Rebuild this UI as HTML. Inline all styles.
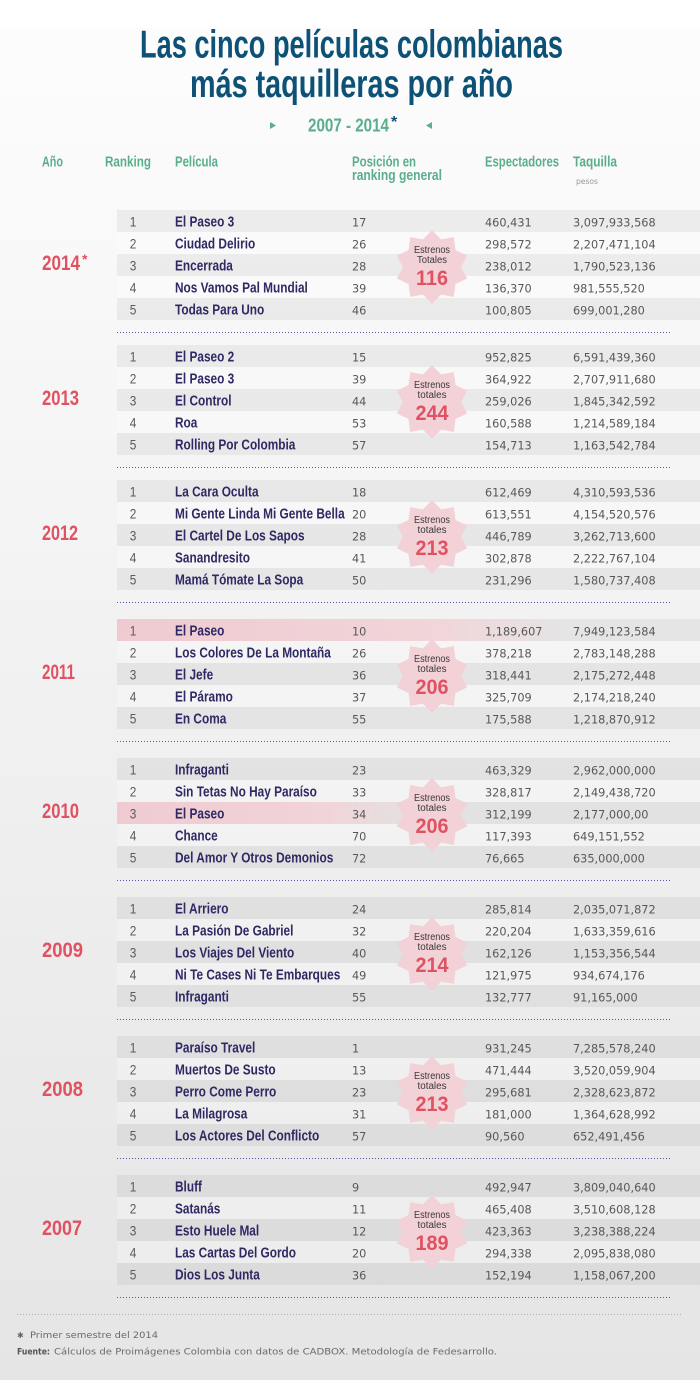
<!DOCTYPE html>
<html><head><meta charset="utf-8">
<style>html,body{margin:0;padding:0;background:#fff}body{width:700px;height:1380px;overflow:hidden}svg{display:block}</style>
</head><body>
<svg width="700" height="1380" viewBox="0 0 700 1380" xmlns="http://www.w3.org/2000/svg">
<defs>
<linearGradient id="bg" x1="0" y1="0" x2="0" y2="1">
<stop offset="0" stop-color="#fdfdfd"/><stop offset="0.5" stop-color="#f1f1f1"/><stop offset="1" stop-color="#e5e5e5"/>
</linearGradient>
<linearGradient id="pk1" x1="0" y1="0" x2="1" y2="0">
<stop offset="0" stop-color="#efcbd1"/><stop offset="0.55" stop-color="#f1d5d9"/><stop offset="0.78" stop-color="#f1d5d9" stop-opacity="0"/>
</linearGradient>
<linearGradient id="pk2" x1="0" y1="0" x2="1" y2="0">
<stop offset="0" stop-color="#efcbd1"/><stop offset="0.36" stop-color="#f1d4d8"/><stop offset="0.52" stop-color="#f1d4d8" stop-opacity="0"/>
</linearGradient>
<polygon id="star" fill="#f2d1d7" points="0,-37 9,-27.6 21.8,-29.9 23.5,-17 35.2,-11.4 29,0 35.2,11.4 23.5,17 21.8,29.9 9,27.6 0,37 -9,27.6 -21.8,29.9 -23.5,17 -35.2,11.4 -29,0 -35.2,-11.4 -23.5,-17 -21.8,-29.9 -9,-27.6"/>
</defs>

<rect x="0" y="0" width="700" height="1380" fill="url(#bg)"/>
<rect x="0" y="0" width="700" height="28" fill="#ffffff"/>

<!-- Title -->
<g font-family="Liberation Sans, sans-serif" font-weight="bold" fill="#0d5276" font-size="39">
<text x="140" y="57.7" textLength="423" lengthAdjust="spacingAndGlyphs">Las cinco películas colombianas</text>
<text x="190" y="97" textLength="323" lengthAdjust="spacingAndGlyphs">más taquilleras por año</text>
</g>
<polygon points="270,122 276,125.5 270,129" fill="#5aae8c"/>
<polygon points="432,122 426,125.5 432,129" fill="#5aae8c"/>
<text x="308" y="131.7" font-family="Liberation Sans, sans-serif" font-weight="bold" font-size="18" fill="#5aae8c" textLength="81" lengthAdjust="spacingAndGlyphs">2007 - 2014</text>
<text x="391" y="127" font-family="Liberation Sans, sans-serif" font-weight="bold" font-size="16" fill="#0d5276">*</text>

<!-- Header -->
<g font-family="Liberation Sans, sans-serif" font-weight="bold" font-size="15" fill="#5aae8c">
<text x="42" y="166.7" textLength="21" lengthAdjust="spacingAndGlyphs">Año</text>
<text x="105" y="166.7" textLength="46" lengthAdjust="spacingAndGlyphs">Ranking</text>
<text x="175" y="166.7" textLength="43" lengthAdjust="spacingAndGlyphs">Película</text>
<text x="352" y="166.7" textLength="64" lengthAdjust="spacingAndGlyphs">Posición en</text>
<text x="352" y="180" textLength="90" lengthAdjust="spacingAndGlyphs">ranking general</text>
<text x="485" y="166.7" textLength="74" lengthAdjust="spacingAndGlyphs">Espectadores</text>
<text x="573" y="166.7" textLength="44" lengthAdjust="spacingAndGlyphs">Taquilla</text>
</g>
<text x="576" y="184" font-family="DejaVu Sans, sans-serif" font-size="7.5" fill="#999" textLength="22" lengthAdjust="spacingAndGlyphs">pesos</text>

<!-- Row bands -->
<g fill="#000" fill-opacity="0.05">
<rect x="117" y="210" width="583" height="22"/><rect x="117" y="254" width="583" height="22"/><rect x="117" y="298" width="583" height="22"/>
<rect x="117" y="345" width="583" height="22"/><rect x="117" y="389" width="583" height="22"/><rect x="117" y="433" width="583" height="22"/>
<rect x="117" y="480" width="583" height="22"/><rect x="117" y="524" width="583" height="22"/><rect x="117" y="568" width="583" height="22"/>
<rect x="117" y="619" width="583" height="22"/><rect x="117" y="663" width="583" height="22"/><rect x="117" y="707" width="583" height="22"/>
<rect x="117" y="758" width="583" height="22"/><rect x="117" y="802" width="583" height="22"/><rect x="117" y="846" width="583" height="22"/>
<rect x="117" y="897" width="583" height="22"/><rect x="117" y="941" width="583" height="22"/><rect x="117" y="985" width="583" height="22"/>
<rect x="117" y="1036" width="583" height="22"/><rect x="117" y="1080" width="583" height="22"/><rect x="117" y="1124" width="583" height="22"/>
<rect x="117" y="1175" width="583" height="22"/><rect x="117" y="1219" width="583" height="22"/><rect x="117" y="1263" width="583" height="22"/>
</g>
<g fill="#fff" fill-opacity="0.25">
<rect x="117" y="232" width="583" height="22"/><rect x="117" y="276" width="583" height="22"/>
<rect x="117" y="367" width="583" height="22"/><rect x="117" y="411" width="583" height="22"/>
<rect x="117" y="502" width="583" height="22"/><rect x="117" y="546" width="583" height="22"/>
<rect x="117" y="641" width="583" height="22"/><rect x="117" y="685" width="583" height="22"/>
<rect x="117" y="780" width="583" height="22"/><rect x="117" y="824" width="583" height="22"/>
<rect x="117" y="919" width="583" height="22"/><rect x="117" y="963" width="583" height="22"/>
<rect x="117" y="1058" width="583" height="22"/><rect x="117" y="1102" width="583" height="22"/>
<rect x="117" y="1197" width="583" height="22"/><rect x="117" y="1241" width="583" height="22"/>
</g>
<rect x="117" y="619" width="583" height="22" fill="url(#pk1)"/>
<rect x="117" y="802" width="583" height="22" fill="url(#pk2)"/>

<!-- Dotted separators -->
<g stroke="#5b52b0" stroke-width="1" stroke-dasharray="1 2">
<line x1="117" y1="332.5" x2="672" y2="332.5"/>
<line x1="117" y1="467.5" x2="672" y2="467.5"/>
<line x1="117" y1="602.5" x2="672" y2="602.5"/>
<line x1="117" y1="741.5" x2="672" y2="741.5"/>
<line x1="117" y1="880.5" x2="672" y2="880.5"/>
<line x1="117" y1="1019.5" x2="672" y2="1019.5"/>
<line x1="117" y1="1158.5" x2="672" y2="1158.5"/>
<line x1="117" y1="1297.5" x2="672" y2="1297.5"/>
</g>

<!-- Stars -->
<use href="#star" x="432" y="267"/>
<use href="#star" x="432" y="402"/>
<use href="#star" x="432" y="537"/>
<use href="#star" x="432" y="676"/>
<use href="#star" x="432" y="815"/>
<use href="#star" x="432" y="954"/>
<use href="#star" x="432" y="1093"/>
<use href="#star" x="432" y="1232"/>

<g font-family="Liberation Sans, sans-serif" font-size="10" fill="#3a3a3a" text-anchor="middle">
<text x="432" y="253" textLength="36" lengthAdjust="spacingAndGlyphs">Estrenos</text>
<text x="432" y="263" textLength="30" lengthAdjust="spacingAndGlyphs">Totales</text>
<text x="432" y="388" textLength="36" lengthAdjust="spacingAndGlyphs">Estrenos</text>
<text x="432" y="398" textLength="29" lengthAdjust="spacingAndGlyphs">totales</text>
<text x="432" y="523" textLength="36" lengthAdjust="spacingAndGlyphs">Estrenos</text>
<text x="432" y="533" textLength="29" lengthAdjust="spacingAndGlyphs">totales</text>
<text x="432" y="662" textLength="36" lengthAdjust="spacingAndGlyphs">Estrenos</text>
<text x="432" y="672" textLength="29" lengthAdjust="spacingAndGlyphs">totales</text>
<text x="432" y="801" textLength="36" lengthAdjust="spacingAndGlyphs">Estrenos</text>
<text x="432" y="811" textLength="29" lengthAdjust="spacingAndGlyphs">totales</text>
<text x="432" y="940" textLength="36" lengthAdjust="spacingAndGlyphs">Estrenos</text>
<text x="432" y="950" textLength="29" lengthAdjust="spacingAndGlyphs">totales</text>
<text x="432" y="1079" textLength="36" lengthAdjust="spacingAndGlyphs">Estrenos</text>
<text x="432" y="1089" textLength="29" lengthAdjust="spacingAndGlyphs">totales</text>
<text x="432" y="1218" textLength="36" lengthAdjust="spacingAndGlyphs">Estrenos</text>
<text x="432" y="1228" textLength="29" lengthAdjust="spacingAndGlyphs">totales</text>
</g>
<g font-family="Liberation Sans, sans-serif" font-size="21" font-weight="bold" fill="#e05262" text-anchor="middle">
<text x="432" y="285" textLength="32" lengthAdjust="spacingAndGlyphs">116</text>
<text x="432" y="420" textLength="33" lengthAdjust="spacingAndGlyphs">244</text>
<text x="432" y="555" textLength="33" lengthAdjust="spacingAndGlyphs">213</text>
<text x="432" y="694" textLength="33" lengthAdjust="spacingAndGlyphs">206</text>
<text x="432" y="833" textLength="33" lengthAdjust="spacingAndGlyphs">206</text>
<text x="432" y="972" textLength="33" lengthAdjust="spacingAndGlyphs">214</text>
<text x="432" y="1111" textLength="33" lengthAdjust="spacingAndGlyphs">213</text>
<text x="432" y="1250" textLength="33" lengthAdjust="spacingAndGlyphs">189</text>
</g>

<!-- Years -->
<g font-family="Liberation Sans, sans-serif" font-size="21" font-weight="bold" fill="#e05262">
<text x="42" y="270" textLength="38" lengthAdjust="spacingAndGlyphs">2014</text>
<text x="42" y="405" textLength="37" lengthAdjust="spacingAndGlyphs">2013</text>
<text x="42" y="540" textLength="36" lengthAdjust="spacingAndGlyphs">2012</text>
<text x="42" y="679" textLength="33" lengthAdjust="spacingAndGlyphs">2011</text>
<text x="42" y="818" textLength="37" lengthAdjust="spacingAndGlyphs">2010</text>
<text x="42" y="957" textLength="41" lengthAdjust="spacingAndGlyphs">2009</text>
<text x="42" y="1096" textLength="41" lengthAdjust="spacingAndGlyphs">2008</text>
<text x="42" y="1235" textLength="40" lengthAdjust="spacingAndGlyphs">2007</text>
</g>
<text x="82" y="264" font-family="Liberation Sans, sans-serif" font-size="14" font-weight="bold" fill="#e05262">*</text>

<!-- Ranking digits -->
<g font-family="Liberation Sans, sans-serif" font-size="13.5" fill="#5a5a5a" text-anchor="middle" transform="translate(133 0) scale(0.88 1)">
<text x="0" y="226.5">1</text><text x="0" y="248.5">2</text><text x="0" y="270.5">3</text><text x="0" y="292.5">4</text><text x="0" y="314.5">5</text>
<text x="0" y="361.5">1</text><text x="0" y="383.5">2</text><text x="0" y="405.5">3</text><text x="0" y="427.5">4</text><text x="0" y="449.5">5</text>
<text x="0" y="496.5">1</text><text x="0" y="518.5">2</text><text x="0" y="540.5">3</text><text x="0" y="562.5">4</text><text x="0" y="584.5">5</text>
<text x="0" y="635.5">1</text><text x="0" y="657.5">2</text><text x="0" y="679.5">3</text><text x="0" y="701.5">4</text><text x="0" y="723.5">5</text>
<text x="0" y="774.5">1</text><text x="0" y="796.5">2</text><text x="0" y="818.5">3</text><text x="0" y="840.5">4</text><text x="0" y="862.5">5</text>
<text x="0" y="913.5">1</text><text x="0" y="935.5">2</text><text x="0" y="957.5">3</text><text x="0" y="979.5">4</text><text x="0" y="1001.5">5</text>
<text x="0" y="1052.5">1</text><text x="0" y="1074.5">2</text><text x="0" y="1096.5">3</text><text x="0" y="1118.5">4</text><text x="0" y="1140.5">5</text>
<text x="0" y="1191.5">1</text><text x="0" y="1213.5">2</text><text x="0" y="1235.5">3</text><text x="0" y="1257.5">4</text><text x="0" y="1279.5">5</text>
</g>

<!-- Film names -->
<g font-family="Liberation Sans, sans-serif" font-size="15" font-weight="bold" fill="#2e2963" transform="translate(175 0) scale(0.79 1)">
<text x="0" y="226.5">El Paseo 3</text>
<text x="0" y="248.5">Ciudad Delirio</text>
<text x="0" y="270.5">Encerrada</text>
<text x="0" y="292.5">Nos Vamos Pal Mundial</text>
<text x="0" y="314.5">Todas Para Uno</text>

<text x="0" y="361.5">El Paseo 2</text>
<text x="0" y="383.5">El Paseo 3</text>
<text x="0" y="405.5">El Control</text>
<text x="0" y="427.5">Roa</text>
<text x="0" y="449.5">Rolling Por Colombia</text>

<text x="0" y="496.5">La Cara Oculta</text>
<text x="0" y="518.5">Mi Gente Linda Mi Gente Bella</text>
<text x="0" y="540.5">El Cartel De Los Sapos</text>
<text x="0" y="562.5">Sanandresito</text>
<text x="0" y="584.5">Mamá Tómate La Sopa</text>

<text x="0" y="635.5">El Paseo</text>
<text x="0" y="657.5">Los Colores De La Montaña</text>
<text x="0" y="679.5">El Jefe</text>
<text x="0" y="701.5">El Páramo</text>
<text x="0" y="723.5">En Coma</text>

<text x="0" y="774.5">Infraganti</text>
<text x="0" y="796.5">Sin Tetas No Hay Paraíso</text>
<text x="0" y="818.5">El Paseo</text>
<text x="0" y="840.5">Chance</text>
<text x="0" y="862.5">Del Amor Y Otros Demonios</text>

<text x="0" y="913.5">El Arriero</text>
<text x="0" y="935.5">La Pasión De Gabriel</text>
<text x="0" y="957.5">Los Viajes Del Viento</text>
<text x="0" y="979.5">Ni Te Cases Ni Te Embarques</text>
<text x="0" y="1001.5">Infraganti</text>

<text x="0" y="1052.5">Paraíso Travel</text>
<text x="0" y="1074.5">Muertos De Susto</text>
<text x="0" y="1096.5">Perro Come Perro</text>
<text x="0" y="1118.5">La Milagrosa</text>
<text x="0" y="1140.5">Los Actores Del Conflicto</text>

<text x="0" y="1191.5">Bluff</text>
<text x="0" y="1213.5">Satanás</text>
<text x="0" y="1235.5">Esto Huele Mal</text>
<text x="0" y="1257.5">Las Cartas Del Gordo</text>
<text x="0" y="1279.5">Dios Los Junta</text>
</g>

<!-- Numbers -->
<g font-family="DejaVu Sans, sans-serif" font-size="11.3" fill="#585858">
<text x="352" y="226.5">17</text><text x="485" y="226.5">460,431</text><text x="573" y="226.5">3,097,933,568</text>
<text x="352" y="248.5">26</text><text x="485" y="248.5">298,572</text><text x="573" y="248.5">2,207,471,104</text>
<text x="352" y="270.5">28</text><text x="485" y="270.5">238,012</text><text x="573" y="270.5">1,790,523,136</text>
<text x="352" y="292.5">39</text><text x="485" y="292.5">136,370</text><text x="573" y="292.5">981,555,520</text>
<text x="352" y="314.5">46</text><text x="485" y="314.5">100,805</text><text x="573" y="314.5">699,001,280</text>

<text x="352" y="361.5">15</text><text x="485" y="361.5">952,825</text><text x="573" y="361.5">6,591,439,360</text>
<text x="352" y="383.5">39</text><text x="485" y="383.5">364,922</text><text x="573" y="383.5">2,707,911,680</text>
<text x="352" y="405.5">44</text><text x="485" y="405.5">259,026</text><text x="573" y="405.5">1,845,342,592</text>
<text x="352" y="427.5">53</text><text x="485" y="427.5">160,588</text><text x="573" y="427.5">1,214,589,184</text>
<text x="352" y="449.5">57</text><text x="485" y="449.5">154,713</text><text x="573" y="449.5">1,163,542,784</text>

<text x="352" y="496.5">18</text><text x="485" y="496.5">612,469</text><text x="573" y="496.5">4,310,593,536</text>
<text x="352" y="518.5">20</text><text x="485" y="518.5">613,551</text><text x="573" y="518.5">4,154,520,576</text>
<text x="352" y="540.5">28</text><text x="485" y="540.5">446,789</text><text x="573" y="540.5">3,262,713,600</text>
<text x="352" y="562.5">41</text><text x="485" y="562.5">302,878</text><text x="573" y="562.5">2,222,767,104</text>
<text x="352" y="584.5">50</text><text x="485" y="584.5">231,296</text><text x="573" y="584.5">1,580,737,408</text>

<text x="352" y="635.5">10</text><text x="485" y="635.5">1,189,607</text><text x="573" y="635.5">7,949,123,584</text>
<text x="352" y="657.5">26</text><text x="485" y="657.5">378,218</text><text x="573" y="657.5">2,783,148,288</text>
<text x="352" y="679.5">36</text><text x="485" y="679.5">318,441</text><text x="573" y="679.5">2,175,272,448</text>
<text x="352" y="701.5">37</text><text x="485" y="701.5">325,709</text><text x="573" y="701.5">2,174,218,240</text>
<text x="352" y="723.5">55</text><text x="485" y="723.5">175,588</text><text x="573" y="723.5">1,218,870,912</text>

<text x="352" y="774.5">23</text><text x="485" y="774.5">463,329</text><text x="573" y="774.5">2,962,000,000</text>
<text x="352" y="796.5">33</text><text x="485" y="796.5">328,817</text><text x="573" y="796.5">2,149,438,720</text>
<text x="352" y="818.5">34</text><text x="485" y="818.5">312,199</text><text x="573" y="818.5">2,177,000,00</text>
<text x="352" y="840.5">70</text><text x="485" y="840.5">117,393</text><text x="573" y="840.5">649,151,552</text>
<text x="352" y="862.5">72</text><text x="485" y="862.5">76,665</text><text x="573" y="862.5">635,000,000</text>

<text x="352" y="913.5">24</text><text x="485" y="913.5">285,814</text><text x="573" y="913.5">2,035,071,872</text>
<text x="352" y="935.5">32</text><text x="485" y="935.5">220,204</text><text x="573" y="935.5">1,633,359,616</text>
<text x="352" y="957.5">40</text><text x="485" y="957.5">162,126</text><text x="573" y="957.5">1,153,356,544</text>
<text x="352" y="979.5">49</text><text x="485" y="979.5">121,975</text><text x="573" y="979.5">934,674,176</text>
<text x="352" y="1001.5">55</text><text x="485" y="1001.5">132,777</text><text x="573" y="1001.5">91,165,000</text>

<text x="352" y="1052.5">1</text><text x="485" y="1052.5">931,245</text><text x="573" y="1052.5">7,285,578,240</text>
<text x="352" y="1074.5">13</text><text x="485" y="1074.5">471,444</text><text x="573" y="1074.5">3,520,059,904</text>
<text x="352" y="1096.5">23</text><text x="485" y="1096.5">295,681</text><text x="573" y="1096.5">2,328,623,872</text>
<text x="352" y="1118.5">31</text><text x="485" y="1118.5">181,000</text><text x="573" y="1118.5">1,364,628,992</text>
<text x="352" y="1140.5">57</text><text x="485" y="1140.5">90,560</text><text x="573" y="1140.5">652,491,456</text>

<text x="352" y="1191.5">9</text><text x="485" y="1191.5">492,947</text><text x="573" y="1191.5">3,809,040,640</text>
<text x="352" y="1213.5">11</text><text x="485" y="1213.5">465,408</text><text x="573" y="1213.5">3,510,608,128</text>
<text x="352" y="1235.5">12</text><text x="485" y="1235.5">423,363</text><text x="573" y="1235.5">3,238,388,224</text>
<text x="352" y="1257.5">20</text><text x="485" y="1257.5">294,338</text><text x="573" y="1257.5">2,095,838,080</text>
<text x="352" y="1279.5">36</text><text x="485" y="1279.5">152,194</text><text x="573" y="1279.5">1,158,067,200</text>
</g>

<!-- Footer -->
<line x1="17" y1="1314.5" x2="683" y2="1314.5" stroke="#b0b0b0" stroke-width="1" stroke-dasharray="1 2"/>
<text x="17" y="1338" font-family="DejaVu Sans, sans-serif" font-size="8" fill="#666">✱</text>
<text x="30" y="1338" font-family="DejaVu Sans, sans-serif" font-size="9" fill="#6a6a6a" textLength="128" lengthAdjust="spacingAndGlyphs">Primer semestre del 2014</text>
<text x="17" y="1354.5" font-family="DejaVu Sans, sans-serif" font-size="9" font-weight="bold" fill="#555" textLength="33" lengthAdjust="spacingAndGlyphs">Fuente:</text>
<text x="54" y="1354.5" font-family="DejaVu Sans, sans-serif" font-size="9" fill="#6a6a6a" textLength="443" lengthAdjust="spacingAndGlyphs">Cálculos de Proimágenes Colombia con datos de CADBOX. Metodología de Fedesarrollo.</text>
</svg>
</body></html>
